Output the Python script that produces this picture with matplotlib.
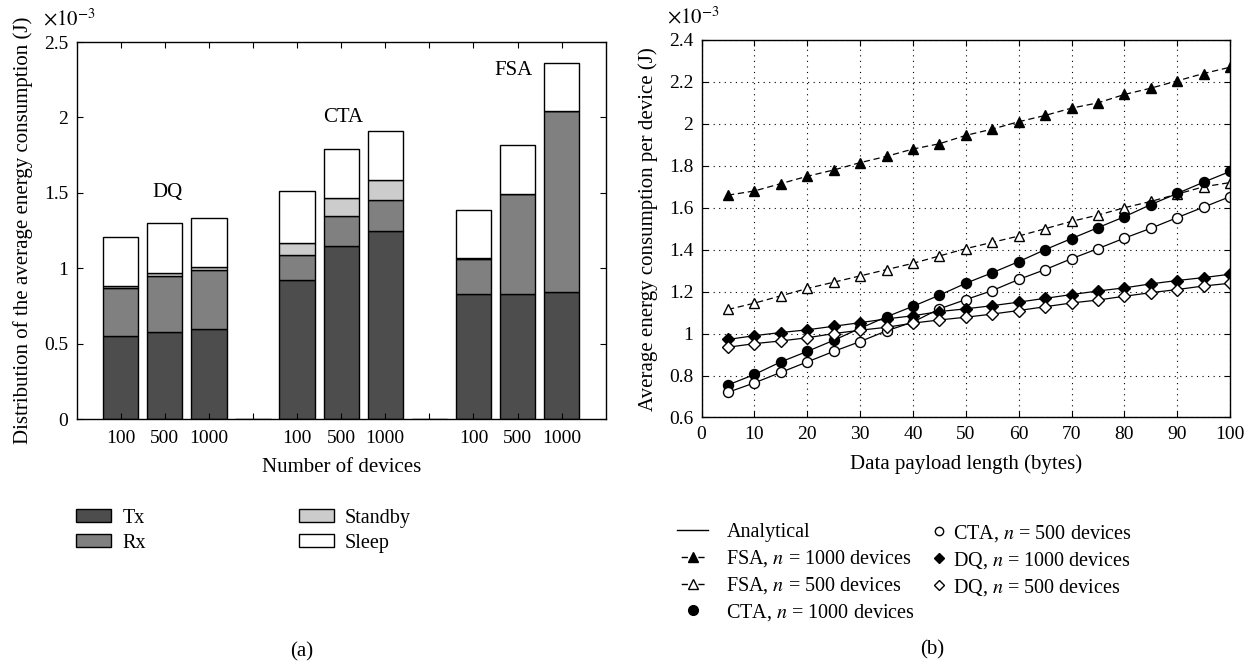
import matplotlib
matplotlib.use("Agg")
import matplotlib.pyplot as plt
from matplotlib.patches import Patch
from matplotlib.lines import Line2D
import numpy as np

plt.rcParams['font.family'] = ['Liberation Serif', 'DejaVu Serif']
plt.rcParams['mathtext.fontset'] = 'stix'

# ---------------- data (panel a), values in 1e-3 J ----------------
protocols = ["DQ", "CTA", "FSA"]
device_labels = ["100", "500", "1000"]
tx = [0.55, 0.58, 0.60, 0.92, 1.15, 1.25, 0.83, 0.83, 0.84]
rx_top = [0.866, 0.95, 0.99, 1.085, 1.345, 1.455, 1.06, 1.49, 2.04]
standby_top = [0.885, 0.97, 1.005, 1.17, 1.465, 1.585, 1.065, 1.495, 2.045]
total = [1.21, 1.30, 1.33, 1.51, 1.79, 1.91, 1.385, 1.82, 2.36]

# ---------------- data (panel b), values in 1e-3 J ----------------
payload = [5, 10, 15, 20, 25, 30, 35, 40, 45, 50, 55, 60, 65, 70, 75, 80, 85, 90, 95, 100]
fsa_1000 = [1.66, 1.68, 1.715, 1.75, 1.78, 1.815, 1.845, 1.88, 1.905, 1.945,
            1.975, 2.01, 2.04, 2.075, 2.10, 2.14, 2.17, 2.205, 2.24, 2.27]
fsa_500 = [1.115, 1.145, 1.18, 1.215, 1.245, 1.275, 1.305, 1.335, 1.37, 1.405,
           1.435, 1.465, 1.50, 1.535, 1.565, 1.60, 1.63, 1.665, 1.70, 1.72]
cta_1000 = [0.755, 0.805, 0.865, 0.915, 0.968, 1.025, 1.08, 1.13, 1.183, 1.24,
            1.29, 1.343, 1.40, 1.453, 1.505, 1.557, 1.615, 1.668, 1.722, 1.773]
cta_500 = [0.72, 0.765, 0.815, 0.865, 0.915, 0.962, 1.013, 1.055, 1.118, 1.162,
           1.205, 1.258, 1.305, 1.357, 1.405, 1.455, 1.502, 1.553, 1.603, 1.653]
dq_1000 = [0.972, 0.99, 1.005, 1.018, 1.035, 1.052, 1.07, 1.085, 1.105, 1.118,
           1.133, 1.15, 1.168, 1.186, 1.203, 1.218, 1.237, 1.253, 1.267, 1.283]
dq_500 = [0.935, 0.952, 0.965, 0.98, 1.0, 1.016, 1.03, 1.05, 1.065, 1.078,
          1.093, 1.11, 1.128, 1.146, 1.16, 1.178, 1.195, 1.21, 1.227, 1.24]

C_TX, C_RX, C_SB, C_SL = "#4d4d4d", "#808080", "#cccccc", "#ffffff"
FS = 15
TFS = 14
LFS = 14.5

fig = plt.figure(figsize=(12.53, 6.67), dpi=100)

# ================= panel (a) =================
axa = fig.add_axes([0.0612, 0.3718, 0.4222, 0.5652])
pos = []
slot = 1
for g in range(len(protocols)):
    for d in range(len(device_labels)):
        pos.append(slot)
        slot += 1
    if g < len(protocols) - 1:
        slot += 1
gap_pos = [4, 8]
tx_a = np.array(tx)
rx_a = np.array(rx_top) - tx_a
sb_a = np.array(standby_top) - np.array(rx_top)
sl_a = np.array(total) - np.array(standby_top)
w = 0.8
kw = dict(width=w, edgecolor="black", linewidth=1.0)
axa.bar(pos, tx_a, color=C_TX, **kw)
axa.bar(pos, rx_a, bottom=tx_a, color=C_RX, **kw)
axa.bar(pos, sb_a, bottom=tx_a + rx_a, color=C_SB, **kw)
axa.bar(pos, sl_a, bottom=tx_a + rx_a + sb_a, color=C_SL, **kw)
axa.bar(gap_pos, [0.0, 0.0], color=C_TX, **kw)

axa.set_xlim(0, 12)
axa.set_ylim(0, 2.5)
ticks = list(range(1, 12))
tlabels = []
for t in ticks:
    if t in pos:
        tlabels.append(device_labels[pos.index(t) % 3])
    else:
        tlabels.append("")
axa.set_xticks(ticks)
axa.set_xticklabels(tlabels)
axa.set_yticks([0, 0.5, 1, 1.5, 2, 2.5])
axa.set_yticklabels(["0", "0.5", "1", "1.5", "2", "2.5"])
axa.tick_params(direction="in", top=True, right=True, labelsize=TFS, length=4)
axa.tick_params(axis="x", pad=8)
axa.tick_params(axis="y", pad=6)
axa.set_xlabel("Number of devices", fontsize=FS, labelpad=8)
axa.set_ylabel("Distribution of the average energy consumption (J)", fontsize=FS, labelpad=8)
axa.text(-0.064, 1.03, r"$\times10^{-3}$", transform=axa.transAxes, fontsize=FS,
         ha="left", va="bottom")
axa.text(2.05, 1.5, protocols[0], fontsize=FS, ha="center", va="center")
axa.text(6.04, 2.0, protocols[1], fontsize=FS, ha="center", va="center")
axa.text(9.9, 2.31, protocols[2], fontsize=FS, ha="center", va="center")
for s in axa.spines.values():
    s.set_linewidth(1.0)

leg_a = [Patch(facecolor=C_TX, edgecolor="black", label="Tx"),
         Patch(facecolor=C_RX, edgecolor="black", label="Rx"),
         Patch(facecolor=C_SB, edgecolor="black", label="Standby"),
         Patch(facecolor=C_SL, edgecolor="black", label="Sleep")]
fig.legend(handles=leg_a, ncol=2, loc="upper left", bbox_to_anchor=(0.0543, 0.2496),
           borderaxespad=0, frameon=False, fontsize=LFS, handlelength=1.74,
           handleheight=0.55, columnspacing=7.6, labelspacing=0.3, handletextpad=0.55)
fig.text(0.241, 0.0225, "(a)", fontsize=FS, ha="center", va="center")

# ================= panel (b) =================
axb = fig.add_axes([0.5599, 0.3741, 0.4218, 0.566])
lw = 0.9
axb.plot(payload, fsa_1000, linestyle=(0, (5, 3)), color="black", lw=lw,
         marker="^", ms=7.5, mfc="black", mec="black")
axb.plot(payload, fsa_500, linestyle=(0, (5, 3)), color="black", lw=lw,
         marker="^", ms=7.5, mfc="white", mec="black")
axb.plot(payload, cta_1000, linestyle="-", color="black", lw=lw,
         marker="o", ms=7.2, mfc="black", mec="black")
axb.plot(payload, cta_500, linestyle="-", color="black", lw=lw,
         marker="o", ms=7.2, mfc="white", mec="black")
axb.plot(payload, dq_1000, linestyle="-", color="black", lw=lw,
         marker="D", ms=6.3, mfc="black", mec="black")
axb.plot(payload, dq_500, linestyle="-", color="black", lw=lw,
         marker="D", ms=6.3, mfc="white", mec="black")
axb.set_xlim(0, 100)
axb.set_ylim(0.6, 2.4)
axb.set_xticks(range(0, 101, 10))
axb.set_yticks([0.6, 0.8, 1.0, 1.2, 1.4, 1.6, 1.8, 2.0, 2.2, 2.4])
axb.set_yticklabels(["0.6", "0.8", "1", "1.2", "1.4", "1.6", "1.8", "2", "2.2", "2.4"])
axb.grid(True, linestyle=(0, (1, 4)), color="black", linewidth=0.8)
axb.tick_params(direction="in", top=True, right=True, labelsize=TFS, length=4, pad=6)
axb.set_xlabel("Data payload length (bytes)", fontsize=FS, labelpad=8)
axb.set_ylabel("Average energy consumption per device (J)", fontsize=FS, labelpad=8)
axb.text(-0.065, 1.03, r"$\times10^{-3}$", transform=axb.transAxes, fontsize=FS,
         ha="left", va="bottom")
for s in axb.spines.values():
    s.set_linewidth(1.0)

dash_h = (9, (4.5, 7.5))
leg_b1 = [Line2D([], [], color="black", lw=1, label="Analytical"),
          Line2D([], [], color="black", lw=1, ls=dash_h, marker="^", ms=7,
                 mfc="black", label=r"FSA, $n$ = 1000 devices"),
          Line2D([], [], color="black", lw=1, ls=dash_h, marker="^", ms=7,
                 mfc="white", label=r"FSA, $n$ = 500 devices"),
          Line2D([], [], color="black", lw=0, marker="o", ms=7, mfc="black",
                 label=r"CTA, $n$ = 1000 devices")]
leg_b2 = [Line2D([], [], color="black", lw=0, marker="o", ms=6, mfc="white",
                 label=r"CTA, $n$ = 500 devices"),
          Line2D([], [], color="black", lw=0, marker="D", ms=5.5, mfc="black",
                 label=r"DQ, $n$ = 1000 devices"),
          Line2D([], [], color="black", lw=0, marker="D", ms=5.5, mfc="white",
                 label=r"DQ, $n$ = 500 devices")]
fig.legend(handles=leg_b1, loc="upper left", bbox_to_anchor=(0.5339, 0.2279),
           borderaxespad=0, frameon=False, fontsize=LFS, handlelength=1.55,
           labelspacing=0.3, handletextpad=0.9)
fig.legend(handles=leg_b2, loc="upper left", bbox_to_anchor=(0.735, 0.2279),
           borderaxespad=0, frameon=False, fontsize=LFS, handlelength=1.0,
           labelspacing=0.3, handletextpad=0.2)
fig.text(0.744, 0.0255, "(b)", fontsize=FS, ha="center", va="center")

fig.savefig("out.png", dpi=100)
